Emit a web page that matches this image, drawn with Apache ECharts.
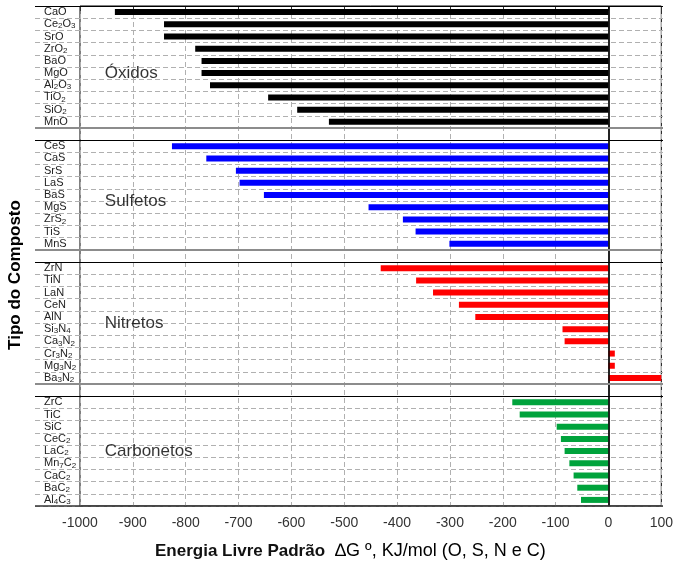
<!DOCTYPE html>
<html>
<head>
<meta charset="utf-8">
<script src="https://cdn.jsdelivr.net/npm/echarts@6/dist/echarts.min.js"></script>
<style>
  html, body { margin: 0; padding: 0; background: #fff; }
  #chart { width: 676px; height: 566px; }
</style>
</head>
<body>
<div id="chart"></div>
<script>
// Standard free energy of formation, kJ/mol, grouped by compound family.
// "_n" in a label marks a subscript.
const groupNames = ['Óxidos', 'Sulfetos', 'Nitretos', 'Carbonetos'];
const groupColors = ['#000000', '#0000ff', '#ff0000', '#00a33c'];

const oxideLabels = ['CaO', 'Ce_2O_3', 'SrO', 'ZrO_2', 'BaO', 'MgO', 'Al_2O_3', 'TiO_2', 'SiO_2', 'MnO'];
const oxideValues = [-934, -841, -841, -782, -770, -770, -754, -644, -589, -529];

const sulfideLabels = ['CeS', 'CaS', 'SrS', 'LaS', 'BaS', 'MgS', 'ZrS_2', 'TiS', 'MnS'];
const sulfideValues = [-826, -761, -705, -698, -652, -454, -389, -365, -301];

const nitrideLabels = ['ZrN', 'TiN', 'LaN', 'CeN', 'AlN', 'Si_3N_4', 'Ca_3N_2', 'Cr_3N_2', 'Mg_3N_2', 'Ba_3N_2'];
const nitrideValues = [-431, -364, -332, -283, -252, -87, -83, 12, 12, 100];

const carbideLabels = ['ZrC', 'TiC', 'SiC', 'CeC_2', 'LaC_2', 'Mn_7C_2', 'CaC_2', 'BaC_2', 'Al_4C_3'];
const carbideValues = [-182, -168, -98, -90, -83, -74, -66, -59, -52];

const xMin = -1000, xMax = 100, xStep = 100;
const xTitleMain = 'Energia Livre Padrão';
const xTitleRest = '∆G º, KJ/mol (O, S, N e C)';
const yTitle = 'Tipo do Composto';

const groups = [
  { labels: oxideLabels, values: oxideValues },
  { labels: sulfideLabels, values: sulfideValues },
  { labels: nitrideLabels, values: nitrideValues },
  { labels: carbideLabels, values: carbideValues }
];

// One category slot per compound, with an empty slot between families.
const categories = [];
const groupStart = [];
groups.forEach((g, gi) => {
  groupStart.push(categories.length);
  g.labels.forEach(l => categories.push(l));
  if (gi < groups.length - 1) categories.push(' '.repeat(gi + 1));
});
const slotCount = categories.length;

// Family title vertical placement, in slots from the family's first row.
const titleSlotOffset = [5.5, 5, 5, 4.5];
const titleX = -954;

const FONT = 'Arial, "Liberation Sans", Helvetica, sans-serif';

function richLabel(text) {
  if (!text.trim()) return '';
  return text.split(/(_\d+)/).filter(t => t).map(t =>
    t[0] === '_' ? '{s|' + t.slice(1) + '}' : '{n|' + t + '}'
  ).join('');
}

const barSeries = groups.map((g, gi) => {
  const data = categories.map(() => '-');
  g.values.forEach((v, i) => { data[groupStart[gi] + i] = v; });
  return {
    name: groupNames[gi],
    type: 'bar',
    xAxisIndex: 0,
    yAxisIndex: 0,
    data: data,
    barWidth: 6,
    barGap: '-100%',
    itemStyle: { color: groupColors[gi] },
    silent: true,
    z: 3
  };
});

// Zero line
barSeries[0].markLine = {
  silent: true,
  symbol: ['none', 'none'],
  label: { show: false },
  lineStyle: { color: '#000', width: 1.5, type: 'solid' },
  data: [{ xAxis: 0 }],
  z: 5
};

// Family frame lines across the full box (labels column included)
const sepLines = [];
groups.forEach((g, gi) => {
  const top = groupStart[gi];
  const bottom = top + g.labels.length;
  sepLines.push({ yAxis: top, lineStyle: { color: '#000', width: 1 } });
  if (gi < groups.length - 1) {
    sepLines.push({ yAxis: bottom, lineStyle: { color: '#8c8c8c', width: 2 } });
  } else {
    sepLines.push({ yAxis: bottom, lineStyle: { color: '#333', width: 1.5 } });
  }
});

const frameSeries = {
  type: 'line',
  xAxisIndex: 1,
  yAxisIndex: 1,
  data: [],
  silent: true,
  markLine: {
    silent: true,
    symbol: ['none', 'none'],
    label: { show: false },
    lineStyle: { type: 'solid' },
    data: sepLines,
    z: 6
  }
};

const titleSeries = {
  type: 'scatter',
  xAxisIndex: 0,
  yAxisIndex: 2,
  symbolSize: 1,
  itemStyle: { color: 'rgba(255,255,255,0)' },
  silent: true,
  data: groupNames.map((n, gi) => ({
    name: n,
    value: [titleX, groupStart[gi] + titleSlotOffset[gi]]
  })),
  label: {
    show: true,
    position: 'right',
    distance: 0,
    formatter: p => p.name,
    fontSize: 17,
    color: '#000',
    fontFamily: FONT
  },
  z: 7
};

const chart = echarts.init(document.getElementById('chart'), null, { renderer: 'canvas' });

chart.setOption({
  animation: false,
  backgroundColor: '#fff',
  grid: [
    { left: 80, right: 13, top: 6, bottom: 60, show: true, borderColor: '#000', borderWidth: 1, backgroundColor: 'transparent' },
    { left: 35, right: 13, top: 6, bottom: 60 }
  ],
  xAxis: [
    {
      type: 'value', gridIndex: 0, min: xMin, max: xMax, interval: xStep,
      axisLine: { show: false },
      axisTick: { show: true, length: 5, lineStyle: { color: '#333' } },
      axisLabel: {
        fontSize: 14, color: '#333', margin: 10, fontFamily: FONT,
        formatter: v => String(v)
      },
      splitLine: { show: true, lineStyle: { color: '#b0b0b0', type: [5, 3], width: 1 } }
    },
    {
      type: 'value', gridIndex: 1, min: 0, max: 1, show: false
    }
  ],
  yAxis: [
    {
      type: 'category', gridIndex: 0, data: categories, inverse: true,
      axisLine: { show: true, lineStyle: { color: '#8c8c8c', width: 2 } },
      axisTick: { show: false },
      splitLine: { show: false },
      axisLabel: {
        interval: 0,
        align: 'left',
        margin: 36,
        formatter: richLabel,
        rich: {
          n: { fontSize: 11, lineHeight: 12, color: '#222', fontFamily: FONT },
          s: { fontSize: 8, lineHeight: 8, verticalAlign: 'bottom', color: '#222', fontFamily: FONT }
        }
      }
    },
    {
      type: 'value', gridIndex: 1, min: 0, max: slotCount, interval: 1, inverse: true,
      axisLine: { show: false }, axisTick: { show: false }, axisLabel: { show: false },
      splitLine: { show: true, lineStyle: { color: '#b0b0b0', type: [5, 3], width: 1 } }
    },
    {
      type: 'value', gridIndex: 0, min: 0, max: slotCount, inverse: true,
      axisLine: { show: false }, axisTick: { show: false }, axisLabel: { show: false },
      splitLine: { show: false }
    }
  ],
  graphic: [
    {
      type: 'text', x: 155, y: 551,
      style: {
        text: '{b|' + xTitleMain + '}{r|  ' + xTitleRest + '}',
        rich: {
          b: { fontSize: 17, fontWeight: 'bold', fontFamily: FONT, fill: '#111' },
          r: { fontSize: 18, fontFamily: FONT, fill: '#000' }
        },
        textAlign: 'left', textVerticalAlign: 'middle'
      }
    },
    {
      type: 'text', x: 15, y: 275, rotation: Math.PI / 2,
      style: {
        text: yTitle, fontSize: 17, fontWeight: 'bold', fontFamily: FONT, fill: '#000',
        textAlign: 'center', textVerticalAlign: 'middle'
      }
    }
  ],
  series: barSeries.concat([frameSeries, titleSeries])
});
</script>
</body>
</html>
